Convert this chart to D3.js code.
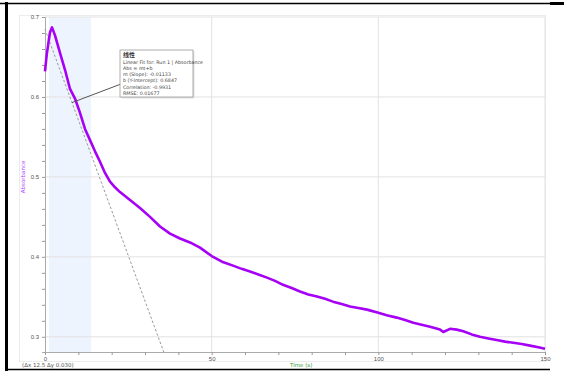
<!DOCTYPE html>
<html>
<head>
<meta charset="utf-8">
<script src="https://cdn.jsdelivr.net/npm/d3@7"></script>
<style>
  body { margin: 0; background: #fff; }
  svg { display: block; font-family: "DejaVu Sans", sans-serif; }
</style>
</head>
<body>
<div id="chart"></div>
<script>
// readings
const timeValues = [0, 0.5, 1.0, 1.5, 2.1, 3.0, 4.5, 6.0, 7.5, 9.0, 10.5, 12.0, 13.5, 15.0, 16.5,
  18.0, 19.5, 21.0, 22.5, 25.5, 28.5, 31.5, 34.5, 37.5, 40.5, 43.5, 46.5, 50.0, 53.1, 56.4,
  59.0, 61.5, 64.0, 66.6, 69.0, 71.4, 74.0, 76.5, 79.0, 81.6, 84.0, 86.4, 89.0, 91.5, 94.0,
  96.6, 100.0, 102.5, 105.5, 108.0, 110.5, 113.0, 115.5, 118.5, 119.5, 121.5, 123.5, 125.5,
  128.0, 130.5, 133.0, 135.5, 138.0, 140.5, 143.0, 145.5, 148.0, 150.0];
const absorbanceValues = [0.632, 0.652, 0.667, 0.681, 0.687, 0.677, 0.655, 0.634, 0.610, 0.598,
  0.580, 0.560, 0.546, 0.532, 0.519, 0.505, 0.494, 0.487, 0.481, 0.471, 0.461, 0.450, 0.438,
  0.429, 0.423, 0.418, 0.4115, 0.401, 0.394, 0.389, 0.385, 0.3816, 0.378, 0.374, 0.370, 0.365,
  0.361, 0.3566, 0.353, 0.3504, 0.3475, 0.344, 0.341, 0.338, 0.336, 0.334, 0.330, 0.327, 0.324,
  0.321, 0.3175, 0.315, 0.3125, 0.309, 0.306, 0.310, 0.309, 0.307, 0.303, 0.300, 0.298, 0.296,
  0.294, 0.2925, 0.291, 0.289, 0.287, 0.285];

const xTicks = [0, 50, 100, 150];
const yTicks = [0.3, 0.4, 0.5, 0.6, 0.7];
const selection = [1.2, 13.8];

const fitSlope = -0.01133;
const fitIntercept = 0.6847;
const fitTitle = "线性";
const fitLines = [
  "Linear Fit for: Run 1 | Absorbance",
  "Abs = mt+b",
  "m (Slope): -0.01133",
  "b (Y-Intercept): 0.6847",
  "Correlation: -0.9931",
  "RMSE: 0.01677"
];

const width = 564, height = 372;
const data = timeValues.map((t, i) => ({ t: t, a: absorbanceValues[i] }));

const svg = d3.select("#chart").append("svg")
  .attr("width", width)
  .attr("height", height);

const x = d3.scaleLinear().domain([0, 150]).range([45, 545]);
const y = d3.scaleLinear().domain([0.281, 0.7]).range([352, 17]);

// outer black frame (table cell look)
svg.append("line").attr("x1", 0).attr("x2", 564).attr("y1", 3.5).attr("y2", 3.5)
  .attr("stroke", "#000").attr("stroke-width", 1.5);
svg.append("rect").attr("x", 550).attr("y", 2).attr("width", 14).attr("height", 3).attr("fill", "#000");
svg.append("line").attr("x1", 6.5).attr("x2", 6.5).attr("y1", 2).attr("y2", 371)
  .attr("stroke", "#000").attr("stroke-width", 3);
svg.append("line").attr("x1", 5).attr("x2", 550).attr("y1", 369.5).attr("y2", 369.5)
  .attr("stroke", "#000").attr("stroke-width", 1.5);

// graph panel
svg.append("rect").attr("x", 19.5).attr("y", 15.5).attr("width", 526).attr("height", 346)
  .attr("fill", "none").attr("stroke", "#ececec");

// selected region
svg.append("rect")
  .attr("x", x(selection[0])).attr("y", y(0.7))
  .attr("width", x(selection[1]) - x(selection[0]))
  .attr("height", y(0.281) - y(0.7))
  .attr("fill", "#eef4fd");

// grid
svg.append("g").selectAll("line").data(xTicks.slice(1)).join("line")
  .attr("x1", d => x(d)).attr("x2", d => x(d))
  .attr("y1", y(0.7)).attr("y2", y(0.281))
  .attr("stroke", "#e2e2e2");
svg.append("g").selectAll("line").data(yTicks).join("line")
  .attr("x1", x(0)).attr("x2", x(150))
  .attr("y1", d => y(d)).attr("y2", d => y(d))
  .attr("stroke", "#e2e2e2");

// axes
const xAxis = svg.append("g")
  .attr("transform", `translate(0,${y(0.281)})`)
  .call(d3.axisBottom(x).tickValues(d3.range(0, 151, 10)).tickSize(3)
    .tickFormat(d => xTicks.includes(d) ? d : ""));
xAxis.select(".domain").attr("stroke", "#aaa");
xAxis.selectAll("line").attr("stroke", "#999");
xAxis.selectAll("text").attr("fill", "#555").style("font-size", "6px").attr("dy", "0.5em");

const yAxis = svg.append("g")
  .attr("transform", `translate(${x(0)},0)`)
  .call(d3.axisLeft(y).tickValues(d3.range(0.3, 0.701, 0.02)).tickSize(3)
    .tickFormat(d => yTicks.some(v => Math.abs(v - d) < 1e-6) ? d3.format(".1f")(d) : ""));
yAxis.select(".domain").attr("stroke", "#aaa");
yAxis.selectAll("line").attr("stroke", "#999");
yAxis.selectAll("text").attr("fill", "#555").style("font-size", "6px");

// fit line
const fitEnd = (0.281 - fitIntercept) / fitSlope;
svg.append("line")
  .attr("x1", x(0)).attr("y1", y(fitIntercept))
  .attr("x2", x(fitEnd)).attr("y2", y(fitIntercept + fitSlope * fitEnd))
  .attr("stroke", "#999").attr("stroke-width", 1)
  .attr("stroke-dasharray", "2.5,2");

// data
svg.append("path")
  .datum(data)
  .attr("fill", "none")
  .attr("stroke", "#a600f5")
  .attr("stroke-width", 2.6)
  .attr("stroke-linejoin", "round")
  .attr("d", d3.line().x(d => x(d.t)).y(d => y(d.a)));

// annotation leader + box
const anchorT = 8.1;
svg.append("line")
  .attr("x1", x(anchorT)).attr("y1", y(fitIntercept + fitSlope * anchorT))
  .attr("x2", 121).attr("y2", 84)
  .attr("stroke", "#555").attr("stroke-width", 1);

const box = svg.append("g").attr("transform", "translate(120,50)");
box.append("rect").attr("x", 1.5).attr("y", 1.5).attr("width", 73).attr("height", 47).attr("fill", "#e2e2e2");
box.append("rect").attr("x", 0).attr("y", 0).attr("width", 73).attr("height", 47)
  .attr("fill", "#fff").attr("stroke", "#9a9a9a").attr("stroke-width", 0.8);
box.append("text").attr("x", 3).attr("y", 7)
  .attr("font-size", "6px").attr("font-weight", "bold").attr("fill", "#333")
  .attr("font-family", "Noto Sans CJK SC").text(fitTitle);
box.selectAll("text.l").data(fitLines).join("text").attr("class", "l")
  .attr("x", 3).attr("y", (d, i) => 13.5 + i * 6.3)
  .attr("font-size", "4.8px").attr("fill", "#444").text(d => d);

// axis titles and status text
svg.append("text")
  .attr("transform", `translate(25,${y(0.5)}) rotate(-90)`)
  .attr("text-anchor", "middle").attr("font-size", "5.5px").attr("fill", "#b040ff")
  .text("Absorbance");
svg.append("text").attr("x", 290).attr("y", 367)
  .attr("font-size", "5.5px").attr("fill", "#3a9a3a").text("Time (s)");
svg.append("text").attr("x", 22).attr("y", 367)
  .attr("font-size", "5.5px").attr("fill", "#555").text("(Δx 12.5 Δy 0.030)");
</script>
</body>
</html>
